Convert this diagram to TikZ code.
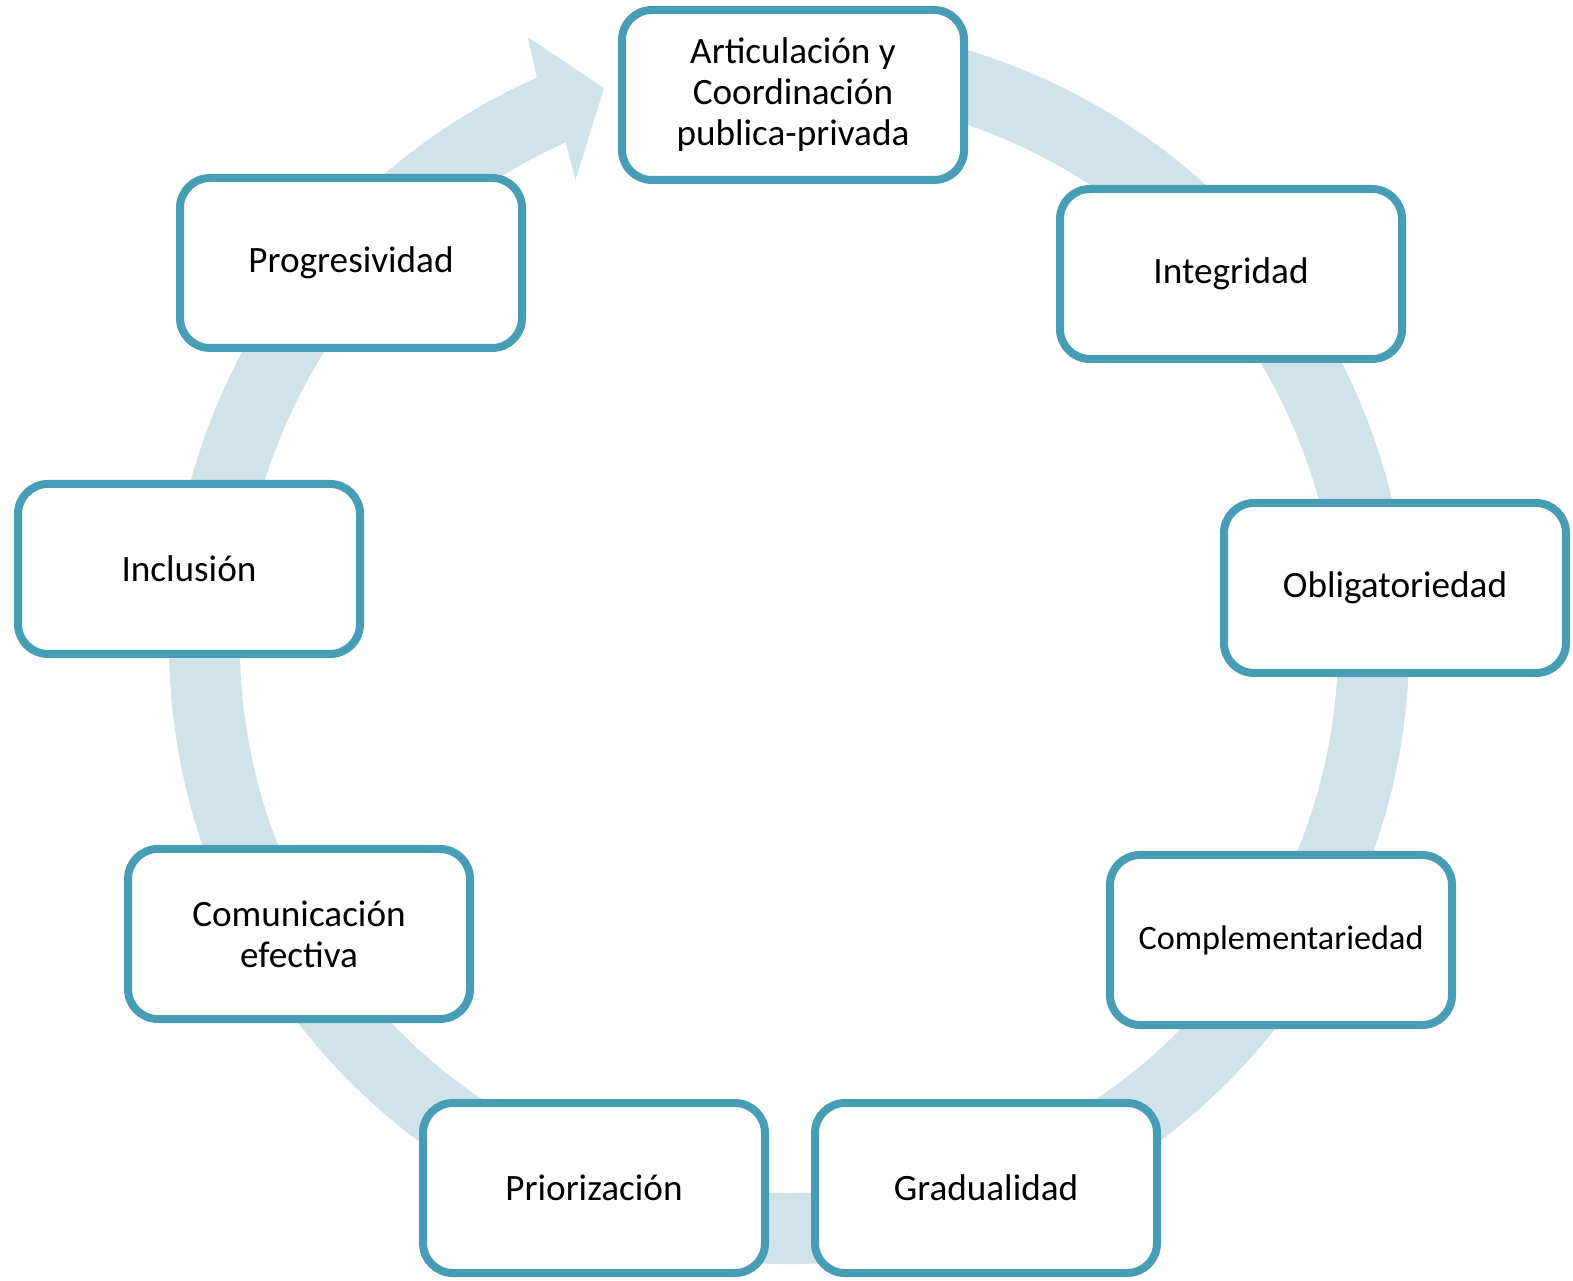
\documentclass[tikz,border=0pt]{standalone}
\usepackage{fontspec}
\setmainfont{Carlito}
\usetikzlibrary{shadows}
\definecolor{ringc}{HTML}{D0E3EA}
\definecolor{boxc}{HTML}{469DB5}
\tikzset{
  cbox/.style={draw=boxc, line width=8pt, fill=white, rounded corners=30pt,
    minimum width=342pt, minimum height=170pt, inner sep=0pt, align=center,
    font=\fontsize{37.2}{41}\selectfont,
    drop shadow={shadow xshift=3pt, shadow yshift=-3pt, opacity=0.35, fill=black!60}},
}
\begin{document}
\begin{tikzpicture}[x=1pt,y=1pt]
\useasboundingbox (0,0) rectangle (1573,1280);
\begin{scope}[shift={(789,636)}]
\fill[ringc] (100:620) arc[start angle=100,end angle=-246,radius=620]
  -- (-246.7:661) -- (-251.6:586) -- (-245.3:511) -- (-246:549)
  arc[start angle=-246,end angle=100,radius=549] -- cycle;
\end{scope}
\begin{scope}[shift={(3,-2)}]
\node[cbox] (a1) at (790,1187) {Articulación y\\Coordinación\\publica-privada};
\node[cbox] (a2) at (1228,1008) {Integridad};
\node[cbox] (a3) at (1392,694) {Obligatoriedad};
\node[cbox, font=\fontsize{34.2}{40}\selectfont] (a4) at (1278,342) {Complementariedad};
\node[cbox] (a5) at (983,94) {Gradualidad};
\node[cbox] (a6) at (591,94) {Priorización};
\node[cbox] (a7) at (296,348) {Comunicación\\efectiva};
\node[cbox] (a8) at (186,713) {Inclusión};
\node[cbox] (a9) at (348,1019) {Progresividad};
\end{scope}
\end{tikzpicture}
\end{document}
